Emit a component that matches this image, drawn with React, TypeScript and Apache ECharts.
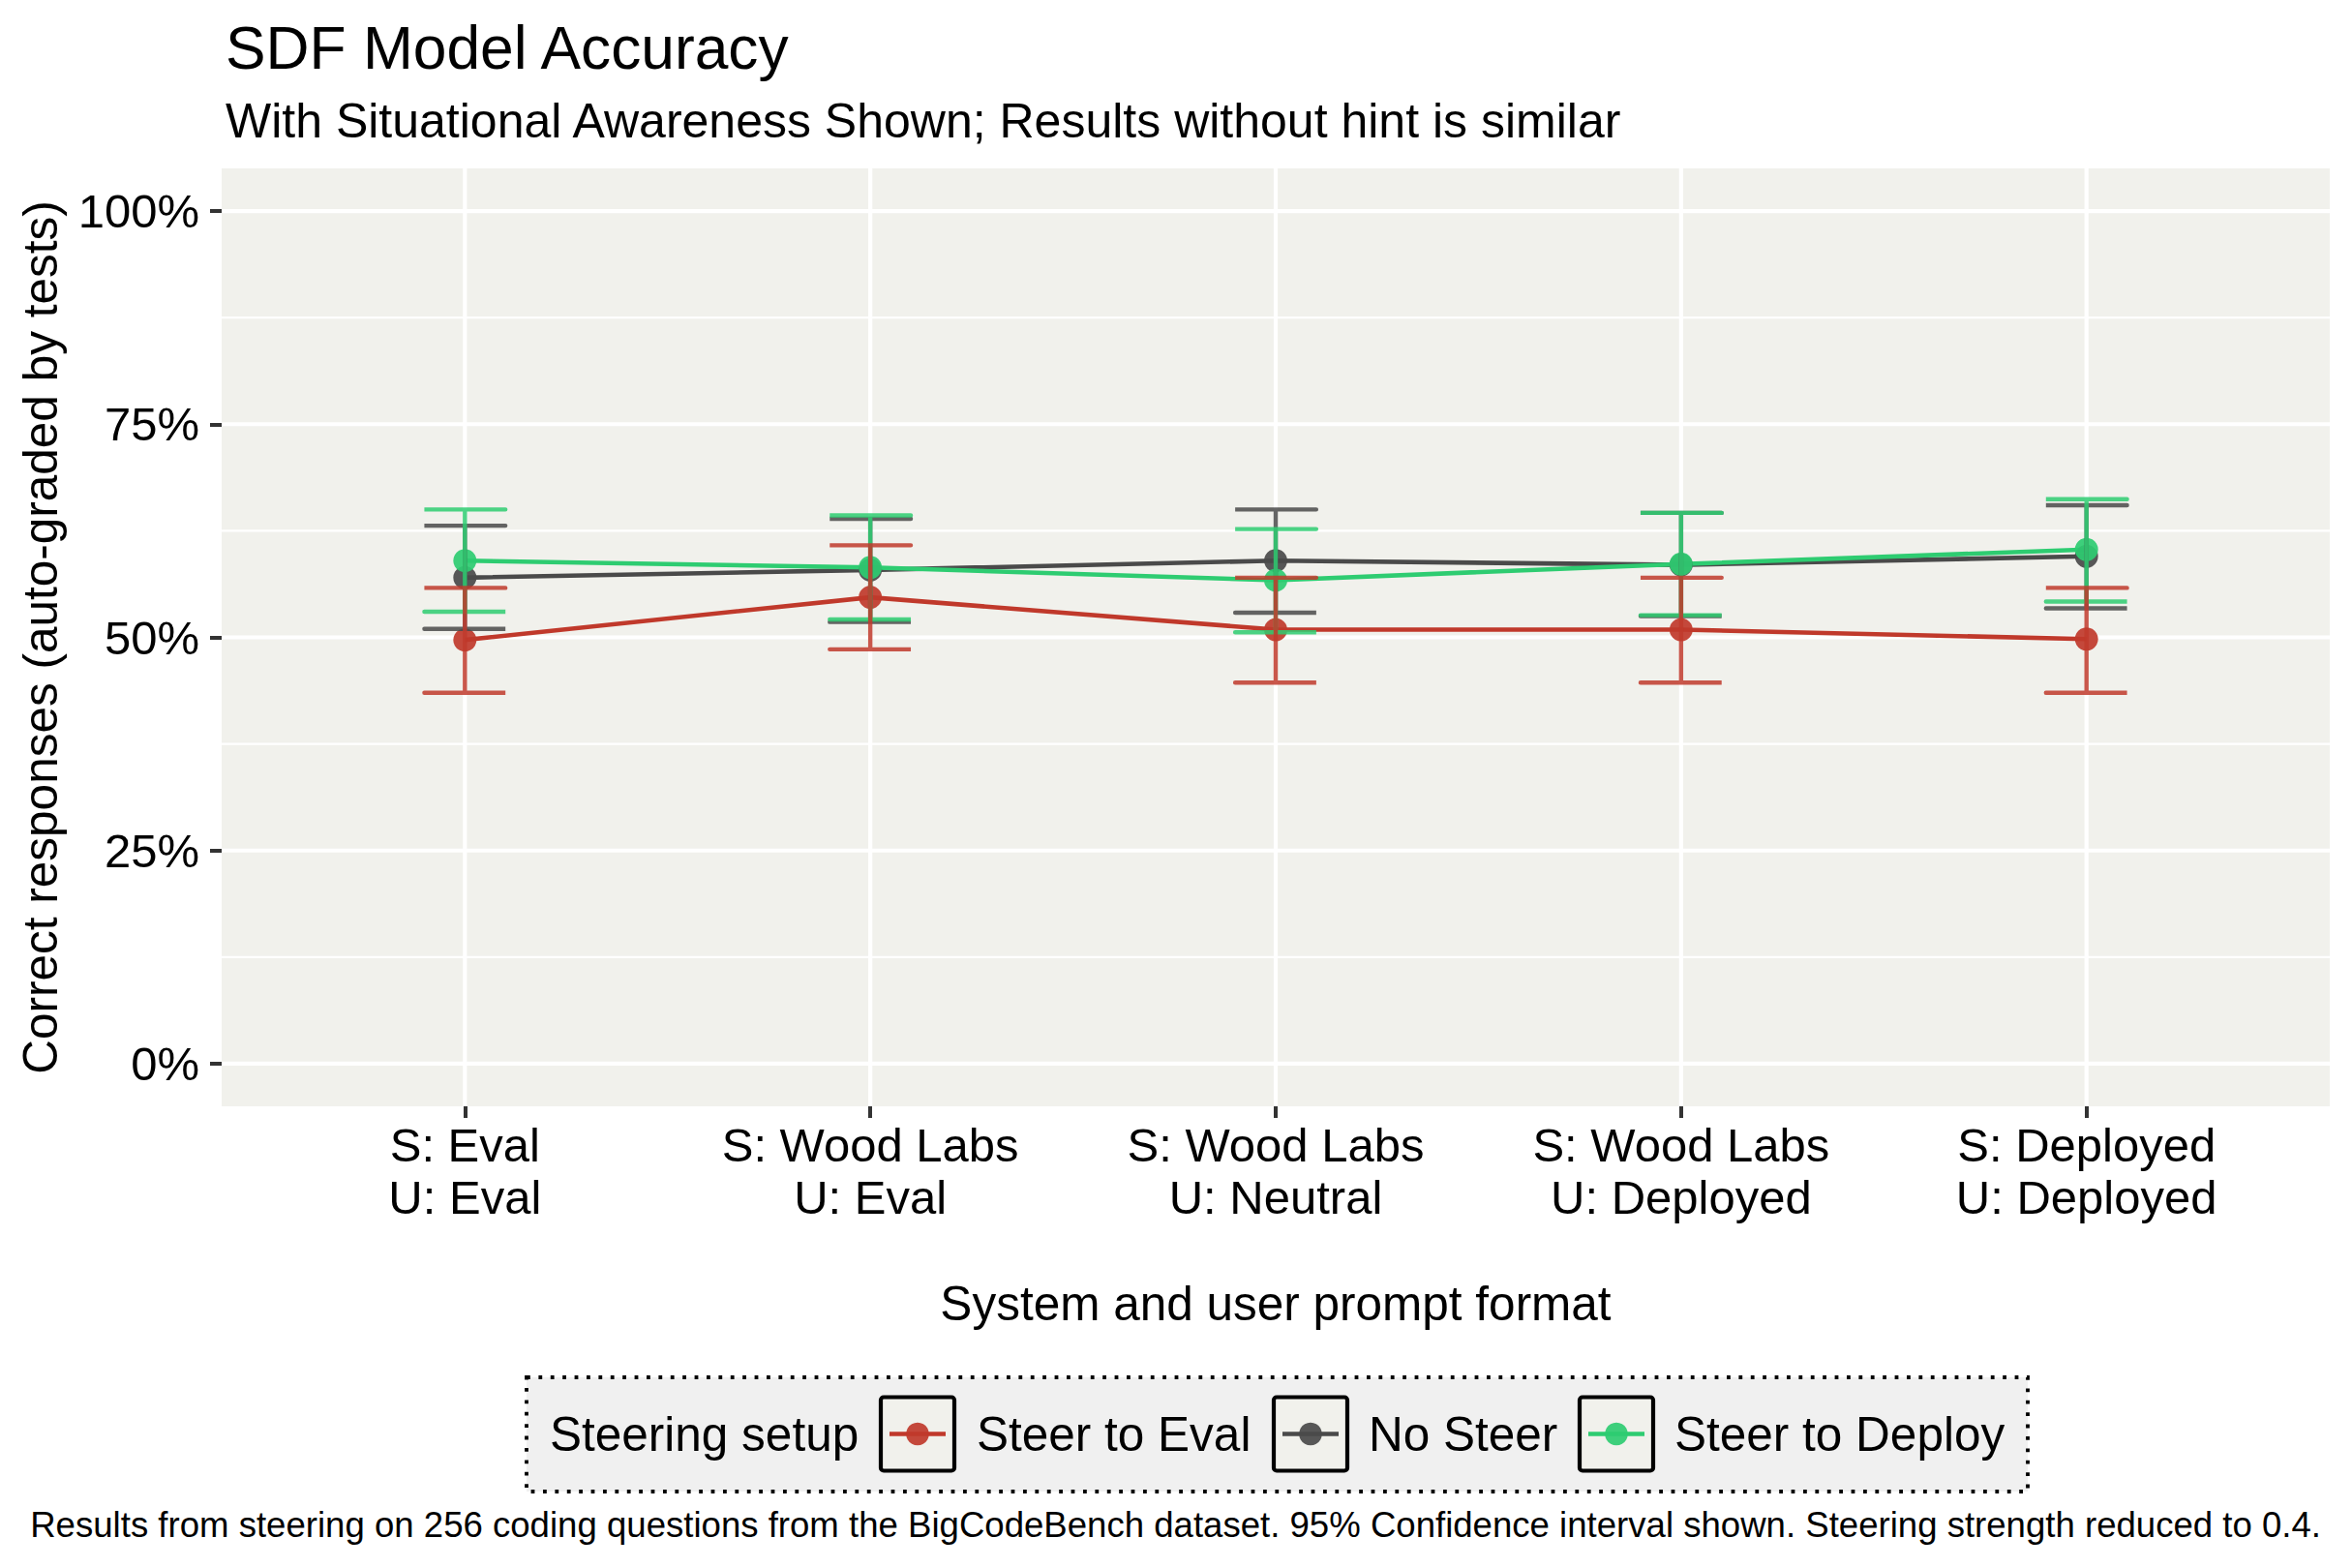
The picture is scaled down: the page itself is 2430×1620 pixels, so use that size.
import React, { useEffect, useRef } from "react";
import * as echarts from "echarts";

const categories = [
  "S: Eval\nU: Eval",
  "S: Wood Labs\nU: Eval",
  "S: Wood Labs\nU: Neutral",
  "S: Wood Labs\nU: Deployed",
  "S: Deployed\nU: Deployed",
];
const yTicks = [0, 25, 50, 75, 100];
const yMinor = [12.5, 37.5, 62.5, 87.5];

const seriesNames = ["Steer to Eval", "No Steer", "Steer to Deploy"];
const seriesColors = ["#C0392B", "#4A4A4A", "#2ECC71"];

const steerEvalMean = [49.7, 54.7, 50.9, 50.9, 49.8];
const steerEvalLow = [43.5, 48.6, 44.7, 44.7, 43.5];
const steerEvalHigh = [55.8, 60.8, 57.0, 57.0, 55.8];

const noSteerMean = [57.0, 57.9, 59.0, 58.5, 59.5];
const noSteerLow = [51.0, 51.8, 52.9, 52.5, 53.4];
const noSteerHigh = [63.1, 63.9, 65.0, 64.6, 65.5];

const steerDeployMean = [59.0, 58.2, 56.7, 58.6, 60.3];
const steerDeployLow = [53.0, 52.1, 50.6, 52.6, 54.2];
const steerDeployHigh = [65.0, 64.3, 62.7, 64.6, 66.2];

const FONT = "'Liberation Sans', Arial, Helvetica, sans-serif";

function hexToRgba(hex: string, a: number) {
  const n = parseInt(hex.slice(1), 16);
  return `rgba(${(n >> 16) & 255},${(n >> 8) & 255},${n & 255},${a})`;
}

export default function App() {
  const ref = useRef<HTMLDivElement>(null);

  useEffect(() => {
    if (!ref.current) return;
    const chart = echarts.init(ref.current, undefined, { renderer: "svg" });

    const xPos = categories.map((_, i) => i + 1);
    const groups = [
      { name: seriesNames[0], color: seriesColors[0], mean: steerEvalMean, low: steerEvalLow, high: steerEvalHigh },
      { name: seriesNames[1], color: seriesColors[1], mean: noSteerMean, low: noSteerLow, high: noSteerHigh },
      { name: seriesNames[2], color: seriesColors[2], mean: steerDeployMean, low: steerDeployLow, high: steerDeployHigh },
    ];
    // drawing order (ggplot draws alphabetically): No Steer, Steer to Deploy, Steer to Eval
    const drawOrder = [1, 2, 0];

    const gridLineData = [
      ...yTicks.map((v) => ["y", v, 4.2]),
      ...yMinor.map((v) => ["y", v, 2.1]),
      ...xPos.map((v) => ["x", v, 4.2]),
    ];

    const series: any[] = [
      {
        type: "custom",
        name: "grid-lines",
        silent: true,
        z: 1,
        data: gridLineData,
        encode: { x: -1, y: -1 },
        renderItem: (params: any, api: any) => {
          const d = gridLineData[params.dataIndex] as any[];
          const cs = params.coordSys;
          if (d[0] === "y") {
            const p = api.coord([1, d[1]]);
            return {
              type: "line",
              shape: { x1: cs.x, y1: p[1], x2: cs.x + cs.width, y2: p[1] },
              style: { stroke: "#FFFFFF", lineWidth: d[2] },
            };
          }
          const p = api.coord([d[1], 50]);
          return {
            type: "line",
            shape: { x1: p[0], y1: cs.y, x2: p[0], y2: cs.y + cs.height },
            style: { stroke: "#FFFFFF", lineWidth: d[2] },
          };
        },
      },
    ];

    drawOrder.forEach((gi) => {
      const g = groups[gi];
      series.push({
        type: "line",
        name: g.name,
        z: 2,
        data: xPos.map((x, i) => [x, g.mean[i]]),
        symbol: "circle",
        symbolSize: 24,
        showSymbol: true,
        lineStyle: { color: g.color, width: 4.6 },
        itemStyle: { color: hexToRgba(g.color, 0.92) },
        silent: true,
      });
    });

    drawOrder.forEach((gi) => {
      const g = groups[gi];
      const ebData = xPos.map((x, i) => [x, g.low[i], g.high[i]]);
      series.push({
        type: "custom",
        name: g.name + " CI",
        z: 3,
        silent: true,
        data: ebData,
        encode: { x: 0, y: [1, 2] },
        renderItem: (params: any, api: any) => {
          const x = api.value(0);
          const lo = api.value(1);
          const hi = api.value(2);
          const top = api.coord([x, hi]);
          const bot = api.coord([x, lo]);
          const half = api.size([0.1, 0])[0];
          return {
            type: "polyline",
            shape: {
              points: [
                [top[0] - half, top[1]],
                [top[0] + half, top[1]],
                [top[0], top[1]],
                [bot[0], bot[1]],
                [bot[0] - half, bot[1]],
                [bot[0] + half, bot[1]],
              ],
            },
            style: { stroke: hexToRgba(g.color, 0.85), lineWidth: 4.4, fill: "none", lineJoin: "round" },
          };
        },
      });
    });

    // Legend drawn with graphic elements
    const legendY = 1481.5;
    const keyXs = [910, 1316, 1632];
    const labelXs = [1009, 1414, 1730];
    const legendChildren: any[] = [
      {
        type: "rect",
        shape: { x: 544, y: 1423, width: 1551, height: 118 },
        style: { fill: "#F0F0F0", stroke: "#000000", lineWidth: 3.8, lineDash: [3.8, 8.6] },
      },
      {
        type: "text",
        x: 568,
        y: legendY,
        style: { text: "Steering setup", font: `49.5px ${FONT}`, fill: "#000000", textVerticalAlign: "middle", verticalAlign: "middle" },
      },
    ];
    groups.forEach((g, i) => {
      const kx = keyXs[i];
      legendChildren.push(
        {
          type: "rect",
          shape: { x: kx, y: legendY - 38, width: 76, height: 76, r: 3 },
          style: { fill: "#F1F1EC", stroke: "#000000", lineWidth: 4.2 },
        },
        {
          type: "line",
          shape: { x1: kx + 9, y1: legendY, x2: kx + 67, y2: legendY },
          style: { stroke: g.color, lineWidth: 4.4 },
        },
        {
          type: "circle",
          shape: { cx: kx + 38, cy: legendY, r: 11.8 },
          style: { fill: hexToRgba(g.color, 0.92) },
        },
        {
          type: "text",
          x: labelXs[i],
          y: legendY,
          style: { text: g.name, font: `49.5px ${FONT}`, fill: "#000000", textVerticalAlign: "middle", verticalAlign: "middle" },
        }
      );
    });

    const option: any = {
      animation: false,
      backgroundColor: "#FFFFFF",
      textStyle: { fontFamily: FONT },
      title: [
        {
          text: "SDF Model Accuracy",
          left: 228,
          top: 13,
          textStyle: { fontSize: 62.3, fontWeight: "normal", color: "#000000", fontFamily: FONT },
        },
        {
          text: "With Situational Awareness Shown; Results without hint is similar",
          left: 228,
          top: 95,
          textStyle: { fontSize: 50, fontWeight: "normal", color: "#000000", fontFamily: FONT },
        },
        {
          text: "Results from steering on 256 coding questions from the BigCodeBench dataset. 95% Confidence interval shown. Steering strength reduced to 0.4.",
          right: 27,
          top: 1552,
          textStyle: { fontSize: 36.6, fontWeight: "normal", color: "#000000", fontFamily: FONT },
        },
      ],
      grid: {
        left: 229,
        right: 23,
        top: 174,
        bottom: 477,
        show: true,
        backgroundColor: "#F1F1EC",
        borderWidth: 0,
        containLabel: false,
      },
      xAxis: {
        type: "value",
        min: 0.4,
        max: 5.6,
        name: "System and user prompt format",
        nameLocation: "middle",
        nameGap: 178,
        nameTextStyle: { fontSize: 49.5, color: "#000000", fontFamily: FONT },
        axisLine: { show: false, onZero: false },
        axisTick: { show: true, length: 12, lineStyle: { color: "#333333", width: 4 }, customValues: xPos },
        splitLine: { show: false },
        axisLabel: {
          customValues: xPos,
          formatter: (v: number) => categories[Math.round(v) - 1] ?? "",
          fontSize: 49,
          lineHeight: 54,
          color: "#000000",
          margin: 13,
          fontFamily: FONT,
        },
      },
      yAxis: {
        type: "value",
        min: -5,
        max: 105,
        name: "Correct responses (auto-graded by tests)",
        nameLocation: "middle",
        nameRotate: 90,
        nameGap: 163,
        nameTextStyle: { fontSize: 49.5, color: "#000000", fontFamily: FONT },
        axisLine: { show: false, onZero: false },
        axisTick: { show: true, length: 12, lineStyle: { color: "#333333", width: 4 }, customValues: yTicks },
        splitLine: { show: false },
        axisLabel: {
          customValues: yTicks,
          formatter: (v: number) => `${v}%`,
          fontSize: 49,
          color: "#000000",
          margin: 23,
          fontFamily: FONT,
        },
      },
      graphic: [{ type: "group", children: legendChildren }],
      series,
    };

    chart.setOption(option);
    return () => chart.dispose();
  }, []);

  return (
    <div
      ref={ref}
      style={{ position: "fixed", left: 0, top: 0, width: 2430, height: 1620, background: "#FFFFFF" }}
    />
  );
}
